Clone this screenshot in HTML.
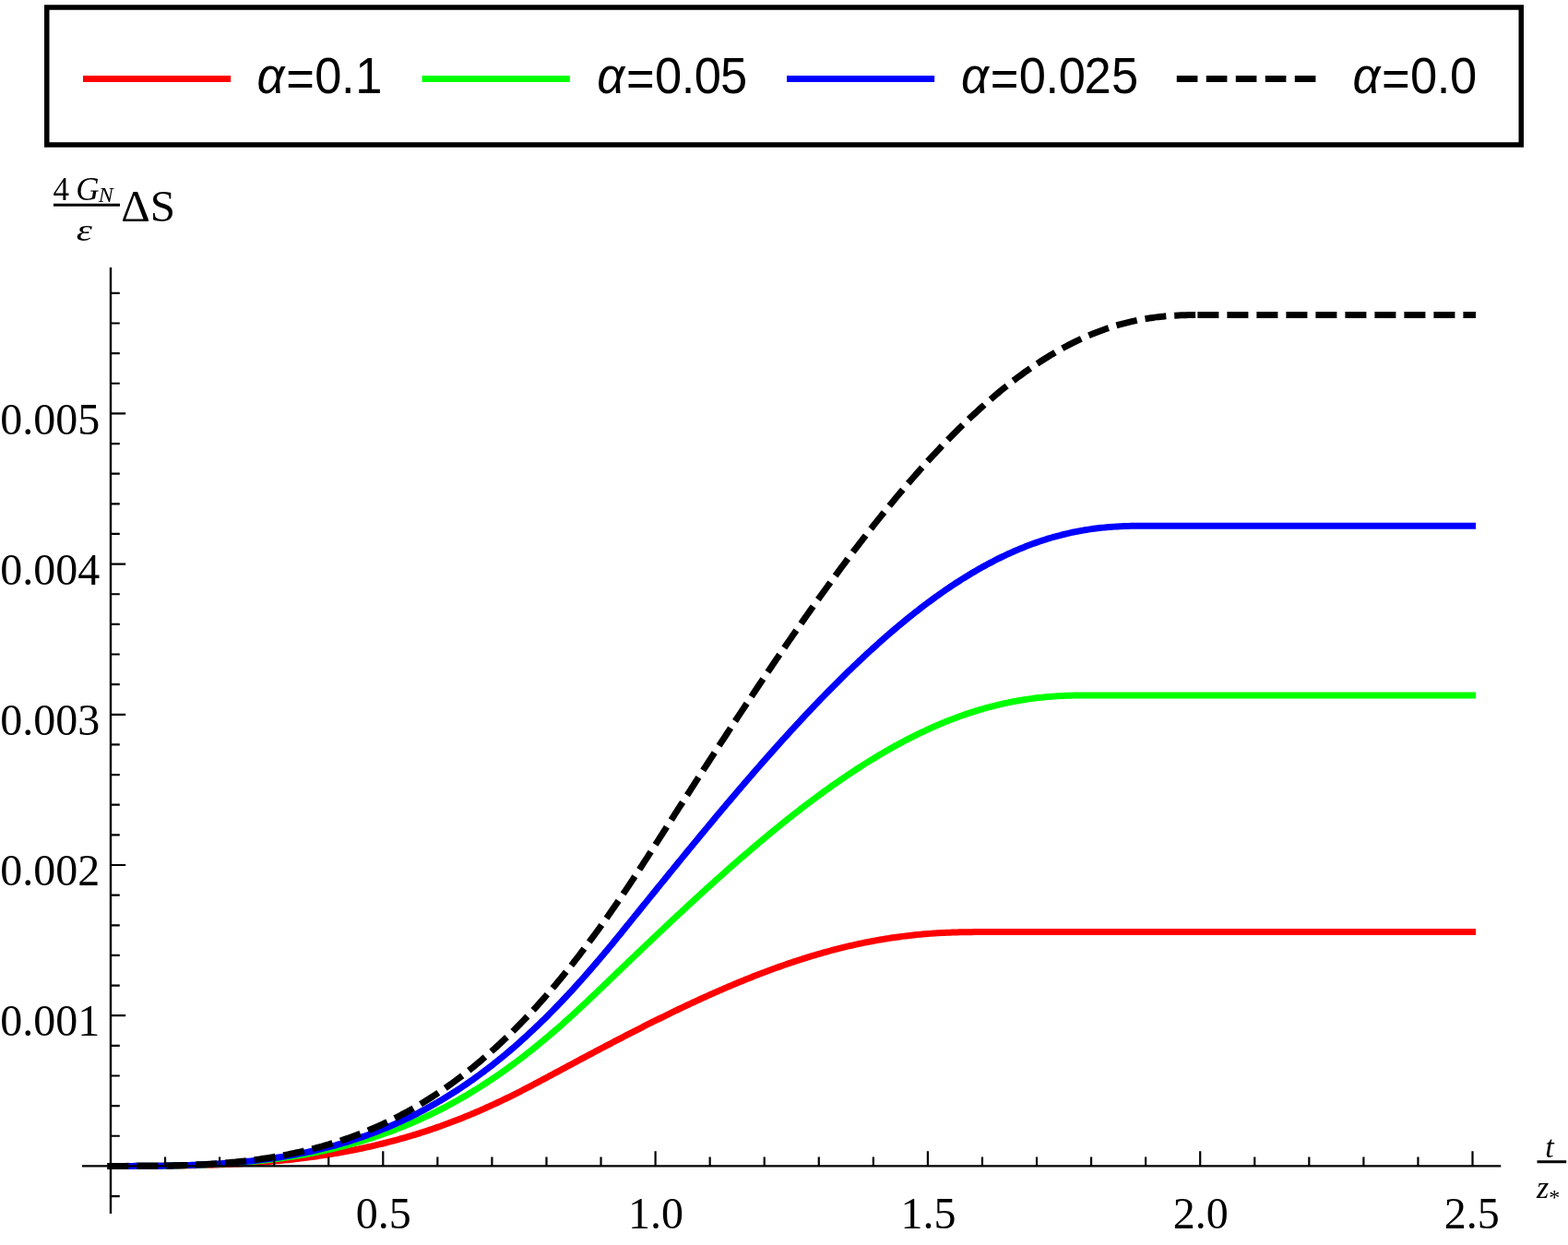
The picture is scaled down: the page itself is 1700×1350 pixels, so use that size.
<!DOCTYPE html>
<html><head><meta charset="utf-8"><title>Plot</title>
<style>
html,body{margin:0;padding:0;background:#fff;}
svg{display:block;}
.tk{font-family:"Liberation Serif","Times New Roman",serif;font-size:48px;fill:#000;}
.lg{font-family:"Liberation Sans",Arial,Helvetica,sans-serif;font-size:52.5px;fill:#000;}
.tm text{font-family:"Liberation Serif","Times New Roman",serif;fill:#000;}
</style></head><body>
<svg width="1700" height="1350" viewBox="0 0 1700 1350">
<rect width="1700" height="1350" fill="#fff"/>
<rect x="50.75" y="8" width="1598.5" height="149" fill="#fff" stroke="#000" stroke-width="5.5"/>
<path d="M90,85.5 h160.2" stroke="#ff0000" stroke-width="7" fill="none"/>
<path d="M457.6,85.5 h160.2" stroke="#00ff00" stroke-width="7" fill="none"/>
<path d="M853,85.5 h160.2" stroke="#0000ff" stroke-width="7" fill="none"/>
<path d="M1275.8,85.5 H1427" stroke="#000" stroke-width="7" stroke-dasharray="22.6 9.4" fill="none"/>
<text transform="translate(278.6,100.7) scale(1,1.06)" class="lg"><tspan font-style="italic">α</tspan><tspan dx="1.7" dy="3.1">=</tspan><tspan dx="0.3" dy="-3.1">0</tspan><tspan dx="-0.4">.</tspan><tspan dx="0.8">1</tspan></text>
<text transform="translate(647.3,100.7) scale(1,1.06)" class="lg"><tspan font-style="italic">α</tspan><tspan dx="1.7" dy="3.1">=</tspan><tspan dx="0.3" dy="-3.1">0</tspan><tspan dx="-0.4">.</tspan><tspan dx="-0.4">0</tspan><tspan dx="-1.0">5</tspan></text>
<text transform="translate(1042.1,100.7) scale(1,1.06)" class="lg"><tspan font-style="italic">α</tspan><tspan dx="1.7" dy="3.1">=</tspan><tspan dx="0.3" dy="-3.1">0</tspan><tspan dx="-0.4">.</tspan><tspan dx="-0.4">0</tspan><tspan dx="-1.4">2</tspan><tspan dx="0.3">5</tspan></text>
<text transform="translate(1466.4,100.7) scale(1,1.06)" class="lg"><tspan font-style="italic">α</tspan><tspan dx="1.7" dy="3.1">=</tspan><tspan dx="0.3" dy="-3.1">0</tspan><tspan dx="-0.4">.</tspan><tspan dx="-0.4">0</tspan></text>
<path d="M120.00,1264.40 L122.00,1264.40 L124.00,1264.40 L126.00,1264.40 L128.00,1264.40 L130.00,1264.40 L132.00,1264.40 L134.00,1264.40 L136.00,1264.40 L138.00,1264.39 L140.00,1264.39 L142.00,1264.39 L144.00,1264.39 L146.00,1264.38 L148.00,1264.38 L150.00,1264.37 L152.00,1264.37 L154.00,1264.36 L156.00,1264.36 L158.00,1264.35 L160.00,1264.34 L162.00,1264.33 L164.00,1264.32 L166.00,1264.31 L168.00,1264.29 L170.00,1264.28 L172.00,1264.27 L174.00,1264.25 L176.00,1264.23 L178.00,1264.21 L180.00,1264.19 L182.00,1264.17 L184.00,1264.15 L186.00,1264.13 L188.00,1264.10 L190.00,1264.07 L192.00,1264.04 L194.00,1264.01 L196.00,1263.98 L198.00,1263.95 L200.00,1263.91 L202.00,1263.87 L204.00,1263.83 L206.00,1263.79 L208.00,1263.75 L210.00,1263.70 L212.00,1263.66 L214.00,1263.61 L216.00,1263.56 L218.00,1263.50 L220.00,1263.45 L222.00,1263.39 L224.00,1263.33 L226.00,1263.26 L228.00,1263.20 L230.00,1263.13 L232.00,1263.06 L234.00,1262.99 L236.00,1262.91 L238.00,1262.83 L240.00,1262.75 L242.00,1262.67 L244.00,1262.58 L246.00,1262.49 L248.00,1262.40 L250.00,1262.31 L252.00,1262.21 L254.00,1262.11 L256.00,1262.00 L258.00,1261.89 L260.00,1261.78 L262.00,1261.67 L264.00,1261.55 L266.00,1261.43 L268.00,1261.31 L270.00,1261.18 L272.00,1261.05 L274.00,1260.92 L276.00,1260.78 L278.00,1260.64 L280.00,1260.50 L282.00,1260.35 L284.00,1260.19 L286.00,1260.04 L288.00,1259.88 L290.00,1259.72 L292.00,1259.55 L294.00,1259.38 L296.00,1259.20 L298.00,1259.02 L300.00,1258.84 L302.00,1258.65 L304.00,1258.46 L306.00,1258.27 L308.00,1258.07 L310.00,1257.86 L312.00,1257.65 L314.00,1257.44 L316.00,1257.22 L318.00,1257.00 L320.00,1256.77 L322.00,1256.54 L324.00,1256.31 L326.00,1256.07 L328.00,1255.82 L330.00,1255.57 L332.00,1255.32 L334.00,1255.06 L336.00,1254.80 L338.00,1254.53 L340.00,1254.25 L342.00,1253.97 L344.00,1253.69 L346.00,1253.40 L348.00,1253.11 L350.00,1252.81 L352.00,1252.50 L354.00,1252.19 L356.00,1251.88 L358.00,1251.56 L360.00,1251.23 L362.00,1250.90 L364.00,1250.56 L366.00,1250.22 L368.00,1249.87 L370.00,1249.52 L372.00,1249.16 L374.00,1248.79 L376.00,1248.42 L378.00,1248.05 L380.00,1247.66 L382.00,1247.27 L384.00,1246.88 L386.00,1246.48 L388.00,1246.07 L390.00,1245.66 L392.00,1245.24 L394.00,1244.82 L396.00,1244.39 L398.00,1243.95 L400.00,1243.51 L402.00,1243.06 L404.00,1242.60 L406.00,1242.14 L408.00,1241.67 L410.00,1241.20 L412.00,1240.72 L414.00,1240.23 L416.00,1239.74 L418.00,1239.24 L420.00,1238.73 L422.00,1238.22 L424.00,1237.69 L426.00,1237.17 L428.00,1236.63 L430.00,1236.09 L432.00,1235.55 L434.00,1234.99 L436.00,1234.43 L438.00,1233.86 L440.00,1233.29 L442.00,1232.70 L444.00,1232.12 L446.00,1231.52 L448.00,1230.92 L450.00,1230.31 L452.00,1229.69 L454.00,1229.06 L456.00,1228.43 L458.00,1227.79 L460.00,1227.15 L462.00,1226.49 L464.00,1225.83 L466.00,1225.17 L468.00,1224.49 L470.00,1223.81 L472.00,1223.12 L474.00,1222.42 L476.00,1221.72 L478.00,1221.01 L480.00,1220.29 L482.00,1219.56 L484.00,1218.83 L486.00,1218.09 L488.00,1217.34 L490.00,1216.58 L492.00,1215.82 L494.00,1215.05 L496.00,1214.27 L498.00,1213.48 L500.00,1212.69 L502.00,1211.89 L504.00,1211.08 L506.00,1210.27 L508.00,1209.44 L510.00,1208.61 L512.00,1207.78 L514.00,1206.93 L516.00,1206.08 L518.00,1205.22 L520.00,1204.35 L522.00,1203.48 L524.00,1202.60 L526.00,1201.71 L528.00,1200.81 L530.00,1199.91 L532.00,1199.00 L534.00,1198.08 L536.00,1197.16 L538.00,1196.23 L540.00,1195.29 L542.00,1194.34 L544.00,1193.39 L546.00,1192.43 L548.00,1191.47 L550.00,1190.50 L552.00,1189.52 L554.00,1188.54 L556.00,1187.54 L558.00,1186.55 L560.00,1185.55 L562.00,1184.54 L564.00,1183.52 L566.00,1182.50 L568.00,1181.48 L570.00,1180.44 L572.00,1179.41 L574.00,1178.37 L576.00,1177.32 L578.00,1176.27 L580.00,1175.22 L582.00,1174.16 L584.00,1173.09 L586.00,1172.03 L588.00,1170.96 L590.00,1169.89 L592.00,1168.81 L594.00,1167.74 L596.00,1166.66 L598.00,1165.59 L600.00,1164.52 L602.00,1163.44 L604.00,1162.37 L606.00,1161.30 L608.00,1160.22 L610.00,1159.15 L612.00,1158.08 L614.00,1157.01 L616.00,1155.93 L618.00,1154.86 L620.00,1153.79 L622.00,1152.72 L624.00,1151.65 L626.00,1150.59 L628.00,1149.52 L630.00,1148.45 L632.00,1147.39 L634.00,1146.32 L636.00,1145.26 L638.00,1144.19 L640.00,1143.13 L642.00,1142.07 L644.00,1141.01 L646.00,1139.95 L648.00,1138.90 L650.00,1137.84 L652.00,1136.78 L654.00,1135.73 L656.00,1134.68 L658.00,1133.63 L660.00,1132.58 L662.00,1131.53 L664.00,1130.49 L666.00,1129.44 L668.00,1128.40 L670.00,1127.36 L672.00,1126.32 L674.00,1125.28 L676.00,1124.25 L678.00,1123.21 L680.00,1122.18 L682.00,1121.15 L684.00,1120.12 L686.00,1119.10 L688.00,1118.08 L690.00,1117.06 L692.00,1116.04 L694.00,1115.02 L696.00,1114.01 L698.00,1112.99 L700.00,1111.98 L702.00,1110.98 L704.00,1109.97 L706.00,1108.97 L708.00,1107.97 L710.00,1106.98 L712.00,1105.98 L714.00,1104.99 L716.00,1104.00 L718.00,1103.02 L720.00,1102.03 L722.00,1101.05 L724.00,1100.08 L726.00,1099.10 L728.00,1098.13 L730.00,1097.16 L732.00,1096.20 L734.00,1095.24 L736.00,1094.28 L738.00,1093.32 L740.00,1092.37 L742.00,1091.43 L744.00,1090.48 L746.00,1089.54 L748.00,1088.60 L750.00,1087.67 L752.00,1086.74 L754.00,1085.81 L756.00,1084.89 L758.00,1083.97 L760.00,1083.05 L762.00,1082.14 L764.00,1081.23 L766.00,1080.33 L768.00,1079.43 L770.00,1078.53 L772.00,1077.64 L774.00,1076.75 L776.00,1075.87 L778.00,1074.99 L780.00,1074.11 L782.00,1073.24 L784.00,1072.37 L786.00,1071.51 L788.00,1070.65 L790.00,1069.80 L792.00,1068.95 L794.00,1068.11 L796.00,1067.27 L798.00,1066.43 L800.00,1065.60 L802.00,1064.77 L804.00,1063.95 L806.00,1063.14 L808.00,1062.33 L810.00,1061.52 L812.00,1060.72 L814.00,1059.92 L816.00,1059.13 L818.00,1058.34 L820.00,1057.56 L822.00,1056.79 L824.00,1056.02 L826.00,1055.25 L828.00,1054.49 L830.00,1053.73 L832.00,1052.98 L834.00,1052.24 L836.00,1051.50 L838.00,1050.77 L840.00,1050.04 L842.00,1049.32 L844.00,1048.60 L846.00,1047.89 L848.00,1047.19 L850.00,1046.49 L852.00,1045.80 L854.00,1045.11 L856.00,1044.43 L858.00,1043.75 L860.00,1043.08 L862.00,1042.42 L864.00,1041.76 L866.00,1041.11 L868.00,1040.46 L870.00,1039.82 L872.00,1039.19 L874.00,1038.56 L876.00,1037.94 L878.00,1037.33 L880.00,1036.72 L882.00,1036.12 L884.00,1035.53 L886.00,1034.94 L888.00,1034.36 L890.00,1033.78 L892.00,1033.21 L894.00,1032.65 L896.00,1032.09 L898.00,1031.55 L900.00,1031.00 L902.00,1030.47 L904.00,1029.94 L906.00,1029.42 L908.00,1028.90 L910.00,1028.40 L912.00,1027.90 L914.00,1027.40 L916.00,1026.91 L918.00,1026.43 L920.00,1025.96 L922.00,1025.50 L924.00,1025.04 L926.00,1024.59 L928.00,1024.14 L930.00,1023.70 L932.00,1023.27 L934.00,1022.85 L936.00,1022.43 L938.00,1022.03 L940.00,1021.63 L942.00,1021.23 L944.00,1020.85 L946.00,1020.47 L948.00,1020.09 L950.00,1019.73 L952.00,1019.37 L954.00,1019.02 L956.00,1018.68 L958.00,1018.35 L960.00,1018.02 L962.00,1017.70 L964.00,1017.39 L966.00,1017.08 L968.00,1016.78 L970.00,1016.49 L972.00,1016.21 L974.00,1015.93 L976.00,1015.66 L978.00,1015.40 L980.00,1015.15 L982.00,1014.91 L984.00,1014.67 L986.00,1014.44 L988.00,1014.21 L990.00,1014.00 L992.00,1013.79 L994.00,1013.58 L996.00,1013.39 L998.00,1013.20 L1000.00,1013.02 L1002.00,1012.85 L1004.00,1012.68 L1006.00,1012.52 L1008.00,1012.37 L1010.00,1012.23 L1012.00,1012.09 L1014.00,1011.96 L1016.00,1011.83 L1018.00,1011.72 L1020.00,1011.60 L1022.00,1011.50 L1024.00,1011.40 L1026.00,1011.31 L1028.00,1011.23 L1030.00,1011.15 L1032.00,1011.07 L1034.00,1011.01 L1036.00,1010.95 L1038.00,1010.89 L1040.00,1010.84 L1042.00,1010.80 L1044.00,1010.76 L1046.00,1010.72 L1048.00,1010.69 L1050.00,1010.67 L1052.00,1010.65 L1054.00,1010.63 L1056.00,1010.62 L1058.00,1010.61 L1060.00,1010.60 L1062.00,1010.60 L1064.00,1010.60 L1064.96,1010.60 L1596.50,1010.60" fill="none" stroke="#ff0000" stroke-width="7" stroke-linejoin="round" stroke-linecap="square"/>
<path d="M120.00,1264.40 L122.00,1264.40 L124.00,1264.40 L126.00,1264.40 L128.00,1264.40 L130.00,1264.40 L132.00,1264.40 L134.00,1264.40 L136.00,1264.39 L138.00,1264.39 L140.00,1264.39 L142.00,1264.39 L144.00,1264.38 L146.00,1264.38 L148.00,1264.37 L150.00,1264.36 L152.00,1264.36 L154.00,1264.35 L156.00,1264.34 L158.00,1264.33 L160.00,1264.31 L162.00,1264.30 L164.00,1264.29 L166.00,1264.27 L168.00,1264.25 L170.00,1264.23 L172.00,1264.21 L174.00,1264.19 L176.00,1264.16 L178.00,1264.14 L180.00,1264.11 L182.00,1264.08 L184.00,1264.05 L186.00,1264.01 L188.00,1263.98 L190.00,1263.94 L192.00,1263.90 L194.00,1263.85 L196.00,1263.81 L198.00,1263.76 L200.00,1263.71 L202.00,1263.66 L204.00,1263.60 L206.00,1263.54 L208.00,1263.48 L210.00,1263.42 L212.00,1263.35 L214.00,1263.28 L216.00,1263.21 L218.00,1263.13 L220.00,1263.05 L222.00,1262.97 L224.00,1262.88 L226.00,1262.80 L228.00,1262.70 L230.00,1262.61 L232.00,1262.51 L234.00,1262.40 L236.00,1262.30 L238.00,1262.19 L240.00,1262.07 L242.00,1261.95 L244.00,1261.83 L246.00,1261.71 L248.00,1261.58 L250.00,1261.44 L252.00,1261.30 L254.00,1261.16 L256.00,1261.01 L258.00,1260.86 L260.00,1260.70 L262.00,1260.54 L264.00,1260.38 L266.00,1260.21 L268.00,1260.03 L270.00,1259.85 L272.00,1259.67 L274.00,1259.48 L276.00,1259.29 L278.00,1259.09 L280.00,1258.88 L282.00,1258.67 L284.00,1258.46 L286.00,1258.24 L288.00,1258.01 L290.00,1257.78 L292.00,1257.55 L294.00,1257.31 L296.00,1257.06 L298.00,1256.80 L300.00,1256.55 L302.00,1256.28 L304.00,1256.01 L306.00,1255.73 L308.00,1255.45 L310.00,1255.16 L312.00,1254.87 L314.00,1254.57 L316.00,1254.26 L318.00,1253.95 L320.00,1253.63 L322.00,1253.30 L324.00,1252.97 L326.00,1252.63 L328.00,1252.28 L330.00,1251.93 L332.00,1251.57 L334.00,1251.20 L336.00,1250.83 L338.00,1250.45 L340.00,1250.06 L342.00,1249.67 L344.00,1249.27 L346.00,1248.86 L348.00,1248.44 L350.00,1248.02 L352.00,1247.59 L354.00,1247.15 L356.00,1246.70 L358.00,1246.25 L360.00,1245.79 L362.00,1245.32 L364.00,1244.84 L366.00,1244.36 L368.00,1243.87 L370.00,1243.37 L372.00,1242.86 L374.00,1242.34 L376.00,1241.82 L378.00,1241.28 L380.00,1240.74 L382.00,1240.19 L384.00,1239.63 L386.00,1239.07 L388.00,1238.49 L390.00,1237.91 L392.00,1237.32 L394.00,1236.72 L396.00,1236.11 L398.00,1235.49 L400.00,1234.86 L402.00,1234.22 L404.00,1233.58 L406.00,1232.92 L408.00,1232.26 L410.00,1231.59 L412.00,1230.91 L414.00,1230.21 L416.00,1229.51 L418.00,1228.80 L420.00,1228.08 L422.00,1227.36 L424.00,1226.62 L426.00,1225.87 L428.00,1225.11 L430.00,1224.34 L432.00,1223.56 L434.00,1222.78 L436.00,1221.98 L438.00,1221.17 L440.00,1220.35 L442.00,1219.53 L444.00,1218.69 L446.00,1217.84 L448.00,1216.98 L450.00,1216.11 L452.00,1215.24 L454.00,1214.35 L456.00,1213.45 L458.00,1212.54 L460.00,1211.62 L462.00,1210.68 L464.00,1209.74 L466.00,1208.79 L468.00,1207.83 L470.00,1206.85 L472.00,1205.87 L474.00,1204.87 L476.00,1203.86 L478.00,1202.85 L480.00,1201.82 L482.00,1200.78 L484.00,1199.73 L486.00,1198.66 L488.00,1197.59 L490.00,1196.51 L492.00,1195.41 L494.00,1194.30 L496.00,1193.18 L498.00,1192.05 L500.00,1190.91 L502.00,1189.76 L504.00,1188.60 L506.00,1187.42 L508.00,1186.23 L510.00,1185.03 L512.00,1183.82 L514.00,1182.60 L516.00,1181.37 L518.00,1180.12 L520.00,1178.87 L522.00,1177.60 L524.00,1176.32 L526.00,1175.02 L528.00,1173.72 L530.00,1172.41 L532.00,1171.08 L534.00,1169.74 L536.00,1168.39 L538.00,1167.02 L540.00,1165.65 L542.00,1164.26 L544.00,1162.87 L546.00,1161.46 L548.00,1160.03 L550.00,1158.60 L552.00,1157.16 L554.00,1155.70 L556.00,1154.23 L558.00,1152.75 L560.00,1151.26 L562.00,1149.75 L564.00,1148.24 L566.00,1146.71 L568.00,1145.17 L570.00,1143.62 L572.00,1142.06 L574.00,1140.48 L576.00,1138.90 L578.00,1137.30 L580.00,1135.69 L582.00,1134.07 L584.00,1132.44 L586.00,1130.80 L588.00,1129.15 L590.00,1127.48 L592.00,1125.81 L594.00,1124.12 L596.00,1122.43 L598.00,1120.72 L600.00,1119.00 L602.00,1117.27 L604.00,1115.53 L606.00,1113.78 L608.00,1112.02 L610.00,1110.26 L612.00,1108.48 L614.00,1106.69 L616.00,1104.89 L618.00,1103.08 L620.00,1101.26 L622.00,1099.44 L624.00,1097.60 L626.00,1095.76 L628.00,1093.91 L630.00,1092.05 L632.00,1090.18 L634.00,1088.31 L636.00,1086.43 L638.00,1084.54 L640.00,1082.64 L642.00,1080.74 L644.00,1078.84 L646.00,1076.93 L648.00,1075.01 L650.00,1073.09 L652.00,1071.17 L654.00,1069.25 L656.00,1067.33 L658.00,1065.41 L660.00,1063.49 L662.00,1061.57 L664.00,1059.65 L666.00,1057.73 L668.00,1055.81 L670.00,1053.89 L672.00,1051.98 L674.00,1050.06 L676.00,1048.14 L678.00,1046.23 L680.00,1044.31 L682.00,1042.40 L684.00,1040.49 L686.00,1038.57 L688.00,1036.66 L690.00,1034.75 L692.00,1032.85 L694.00,1030.94 L696.00,1029.03 L698.00,1027.13 L700.00,1025.23 L702.00,1023.33 L704.00,1021.43 L706.00,1019.53 L708.00,1017.63 L710.00,1015.74 L712.00,1013.85 L714.00,1011.96 L716.00,1010.07 L718.00,1008.18 L720.00,1006.30 L722.00,1004.42 L724.00,1002.54 L726.00,1000.66 L728.00,998.78 L730.00,996.91 L732.00,995.04 L734.00,993.17 L736.00,991.31 L738.00,989.45 L740.00,987.59 L742.00,985.73 L744.00,983.88 L746.00,982.03 L748.00,980.18 L750.00,978.34 L752.00,976.50 L754.00,974.66 L756.00,972.83 L758.00,970.99 L760.00,969.17 L762.00,967.34 L764.00,965.52 L766.00,963.71 L768.00,961.89 L770.00,960.08 L772.00,958.28 L774.00,956.48 L776.00,954.68 L778.00,952.89 L780.00,951.10 L782.00,949.31 L784.00,947.53 L786.00,945.75 L788.00,943.98 L790.00,942.21 L792.00,940.45 L794.00,938.69 L796.00,936.93 L798.00,935.18 L800.00,933.44 L802.00,931.70 L804.00,929.96 L806.00,928.23 L808.00,926.51 L810.00,924.79 L812.00,923.07 L814.00,921.36 L816.00,919.66 L818.00,917.96 L820.00,916.26 L822.00,914.57 L824.00,912.89 L826.00,911.21 L828.00,909.54 L830.00,907.87 L832.00,906.21 L834.00,904.56 L836.00,902.91 L838.00,901.27 L840.00,899.63 L842.00,898.00 L844.00,896.37 L846.00,894.76 L848.00,893.14 L850.00,891.54 L852.00,889.94 L854.00,888.35 L856.00,886.76 L858.00,885.18 L860.00,883.61 L862.00,882.04 L864.00,880.48 L866.00,878.93 L868.00,877.38 L870.00,875.84 L872.00,874.31 L874.00,872.79 L876.00,871.27 L878.00,869.76 L880.00,868.25 L882.00,866.76 L884.00,865.27 L886.00,863.79 L888.00,862.32 L890.00,860.85 L892.00,859.39 L894.00,857.94 L896.00,856.50 L898.00,855.07 L900.00,853.64 L902.00,852.22 L904.00,850.81 L906.00,849.41 L908.00,848.01 L910.00,846.63 L912.00,845.25 L914.00,843.88 L916.00,842.52 L918.00,841.17 L920.00,839.82 L922.00,838.49 L924.00,837.16 L926.00,835.84 L928.00,834.53 L930.00,833.23 L932.00,831.94 L934.00,830.66 L936.00,829.39 L938.00,828.12 L940.00,826.87 L942.00,825.62 L944.00,824.38 L946.00,823.16 L948.00,821.94 L950.00,820.73 L952.00,819.53 L954.00,818.34 L956.00,817.16 L958.00,815.99 L960.00,814.83 L962.00,813.68 L964.00,812.54 L966.00,811.41 L968.00,810.29 L970.00,809.18 L972.00,808.08 L974.00,806.98 L976.00,805.90 L978.00,804.83 L980.00,803.77 L982.00,802.72 L984.00,801.68 L986.00,800.65 L988.00,799.64 L990.00,798.63 L992.00,797.63 L994.00,796.64 L996.00,795.67 L998.00,794.70 L1000.00,793.75 L1002.00,792.80 L1004.00,791.87 L1006.00,790.95 L1008.00,790.03 L1010.00,789.13 L1012.00,788.25 L1014.00,787.37 L1016.00,786.50 L1018.00,785.64 L1020.00,784.80 L1022.00,783.97 L1024.00,783.14 L1026.00,782.33 L1028.00,781.53 L1030.00,780.74 L1032.00,779.97 L1034.00,779.20 L1036.00,778.45 L1038.00,777.71 L1040.00,776.97 L1042.00,776.25 L1044.00,775.55 L1046.00,774.85 L1048.00,774.17 L1050.00,773.49 L1052.00,772.83 L1054.00,772.18 L1056.00,771.55 L1058.00,770.92 L1060.00,770.30 L1062.00,769.70 L1064.00,769.11 L1066.00,768.53 L1068.00,767.97 L1070.00,767.41 L1072.00,766.87 L1074.00,766.33 L1076.00,765.81 L1078.00,765.31 L1080.00,764.81 L1082.00,764.33 L1084.00,763.85 L1086.00,763.39 L1088.00,762.94 L1090.00,762.50 L1092.00,762.08 L1094.00,761.67 L1096.00,761.26 L1098.00,760.87 L1100.00,760.49 L1102.00,760.13 L1104.00,759.77 L1106.00,759.43 L1108.00,759.09 L1110.00,758.77 L1112.00,758.46 L1114.00,758.16 L1116.00,757.87 L1118.00,757.60 L1120.00,757.33 L1122.00,757.08 L1124.00,756.84 L1126.00,756.60 L1128.00,756.38 L1130.00,756.17 L1132.00,755.97 L1134.00,755.78 L1136.00,755.60 L1138.00,755.43 L1140.00,755.27 L1142.00,755.12 L1144.00,754.98 L1146.00,754.85 L1148.00,754.73 L1150.00,754.62 L1152.00,754.52 L1154.00,754.43 L1156.00,754.34 L1158.00,754.27 L1160.00,754.20 L1162.00,754.14 L1164.00,754.09 L1166.00,754.04 L1168.00,754.00 L1170.00,753.97 L1172.00,753.95 L1174.00,753.93 L1176.00,753.92 L1178.00,753.91 L1180.00,753.90 L1182.00,753.90 L1183.08,753.90 L1596.50,753.90" fill="none" stroke="#00ff00" stroke-width="7" stroke-linejoin="round" stroke-linecap="square"/>
<path d="M120.00,1264.40 L122.00,1264.40 L124.00,1264.40 L126.00,1264.40 L128.00,1264.40 L130.00,1264.40 L132.00,1264.40 L134.00,1264.40 L136.00,1264.39 L138.00,1264.39 L140.00,1264.39 L142.00,1264.38 L144.00,1264.38 L146.00,1264.37 L148.00,1264.37 L150.00,1264.36 L152.00,1264.35 L154.00,1264.34 L156.00,1264.33 L158.00,1264.31 L160.00,1264.30 L162.00,1264.28 L164.00,1264.27 L166.00,1264.25 L168.00,1264.23 L170.00,1264.21 L172.00,1264.18 L174.00,1264.15 L176.00,1264.13 L178.00,1264.10 L180.00,1264.06 L182.00,1264.03 L184.00,1263.99 L186.00,1263.95 L188.00,1263.91 L190.00,1263.87 L192.00,1263.82 L194.00,1263.77 L196.00,1263.72 L198.00,1263.66 L200.00,1263.60 L202.00,1263.54 L204.00,1263.48 L206.00,1263.41 L208.00,1263.34 L210.00,1263.26 L212.00,1263.19 L214.00,1263.11 L216.00,1263.02 L218.00,1262.93 L220.00,1262.84 L222.00,1262.75 L224.00,1262.65 L226.00,1262.55 L228.00,1262.44 L230.00,1262.33 L232.00,1262.21 L234.00,1262.09 L236.00,1261.97 L238.00,1261.84 L240.00,1261.71 L242.00,1261.57 L244.00,1261.43 L246.00,1261.28 L248.00,1261.13 L250.00,1260.98 L252.00,1260.82 L254.00,1260.65 L256.00,1260.48 L258.00,1260.31 L260.00,1260.13 L262.00,1259.94 L264.00,1259.75 L266.00,1259.55 L268.00,1259.35 L270.00,1259.14 L272.00,1258.93 L274.00,1258.71 L276.00,1258.49 L278.00,1258.26 L280.00,1258.02 L282.00,1257.78 L284.00,1257.53 L286.00,1257.28 L288.00,1257.02 L290.00,1256.75 L292.00,1256.48 L294.00,1256.20 L296.00,1255.91 L298.00,1255.62 L300.00,1255.32 L302.00,1255.01 L304.00,1254.70 L306.00,1254.38 L308.00,1254.05 L310.00,1253.72 L312.00,1253.38 L314.00,1253.03 L316.00,1252.68 L318.00,1252.31 L320.00,1251.94 L322.00,1251.57 L324.00,1251.18 L326.00,1250.79 L328.00,1250.39 L330.00,1249.98 L332.00,1249.56 L334.00,1249.14 L336.00,1248.71 L338.00,1248.27 L340.00,1247.82 L342.00,1247.36 L344.00,1246.90 L346.00,1246.43 L348.00,1245.95 L350.00,1245.46 L352.00,1244.96 L354.00,1244.45 L356.00,1243.94 L358.00,1243.41 L360.00,1242.88 L362.00,1242.34 L364.00,1241.78 L366.00,1241.22 L368.00,1240.65 L370.00,1240.08 L372.00,1239.49 L374.00,1238.89 L376.00,1238.28 L378.00,1237.67 L380.00,1237.04 L382.00,1236.41 L384.00,1235.76 L386.00,1235.10 L388.00,1234.44 L390.00,1233.76 L392.00,1233.08 L394.00,1232.38 L396.00,1231.68 L398.00,1230.96 L400.00,1230.24 L402.00,1229.50 L404.00,1228.75 L406.00,1228.00 L408.00,1227.23 L410.00,1226.45 L412.00,1225.66 L414.00,1224.86 L416.00,1224.05 L418.00,1223.23 L420.00,1222.40 L422.00,1221.55 L424.00,1220.70 L426.00,1219.83 L428.00,1218.95 L430.00,1218.06 L432.00,1217.16 L434.00,1216.25 L436.00,1215.33 L438.00,1214.39 L440.00,1213.45 L442.00,1212.49 L444.00,1211.52 L446.00,1210.53 L448.00,1209.54 L450.00,1208.53 L452.00,1207.52 L454.00,1206.49 L456.00,1205.44 L458.00,1204.39 L460.00,1203.32 L462.00,1202.24 L464.00,1201.15 L466.00,1200.04 L468.00,1198.93 L470.00,1197.80 L472.00,1196.66 L474.00,1195.50 L476.00,1194.33 L478.00,1193.15 L480.00,1191.96 L482.00,1190.75 L484.00,1189.53 L486.00,1188.30 L488.00,1187.05 L490.00,1185.79 L492.00,1184.52 L494.00,1183.23 L496.00,1181.94 L498.00,1180.62 L500.00,1179.30 L502.00,1177.96 L504.00,1176.60 L506.00,1175.24 L508.00,1173.86 L510.00,1172.46 L512.00,1171.06 L514.00,1169.63 L516.00,1168.20 L518.00,1166.75 L520.00,1165.29 L522.00,1163.81 L524.00,1162.32 L526.00,1160.81 L528.00,1159.30 L530.00,1157.76 L532.00,1156.22 L534.00,1154.65 L536.00,1153.08 L538.00,1151.49 L540.00,1149.89 L542.00,1148.27 L544.00,1146.63 L546.00,1144.99 L548.00,1143.33 L550.00,1141.65 L552.00,1139.96 L554.00,1138.26 L556.00,1136.54 L558.00,1134.81 L560.00,1133.06 L562.00,1131.30 L564.00,1129.52 L566.00,1127.73 L568.00,1125.93 L570.00,1124.11 L572.00,1122.27 L574.00,1120.43 L576.00,1118.56 L578.00,1116.69 L580.00,1114.80 L582.00,1112.89 L584.00,1110.97 L586.00,1109.04 L588.00,1107.09 L590.00,1105.13 L592.00,1103.15 L594.00,1101.16 L596.00,1099.15 L598.00,1097.13 L600.00,1095.10 L602.00,1093.05 L604.00,1090.99 L606.00,1088.92 L608.00,1086.83 L610.00,1084.72 L612.00,1082.61 L614.00,1080.48 L616.00,1078.33 L618.00,1076.18 L620.00,1074.01 L622.00,1071.82 L624.00,1069.63 L626.00,1067.42 L628.00,1065.20 L630.00,1062.96 L632.00,1060.71 L634.00,1058.45 L636.00,1056.18 L638.00,1053.90 L640.00,1051.60 L642.00,1049.29 L644.00,1046.97 L646.00,1044.64 L648.00,1042.30 L650.00,1039.95 L652.00,1037.58 L654.00,1035.21 L656.00,1032.83 L658.00,1030.43 L660.00,1028.03 L662.00,1025.62 L664.00,1023.19 L666.00,1020.76 L668.00,1018.33 L670.00,1015.88 L672.00,1013.43 L674.00,1010.97 L676.00,1008.51 L678.00,1006.04 L680.00,1003.57 L682.00,1001.09 L684.00,998.62 L686.00,996.14 L688.00,993.67 L690.00,991.20 L692.00,988.72 L694.00,986.25 L696.00,983.78 L698.00,981.30 L700.00,978.83 L702.00,976.36 L704.00,973.89 L706.00,971.42 L708.00,968.95 L710.00,966.49 L712.00,964.02 L714.00,961.56 L716.00,959.09 L718.00,956.63 L720.00,954.17 L722.00,951.71 L724.00,949.25 L726.00,946.79 L728.00,944.34 L730.00,941.89 L732.00,939.43 L734.00,936.99 L736.00,934.54 L738.00,932.09 L740.00,929.65 L742.00,927.21 L744.00,924.77 L746.00,922.33 L748.00,919.90 L750.00,917.47 L752.00,915.04 L754.00,912.61 L756.00,910.19 L758.00,907.77 L760.00,905.35 L762.00,902.94 L764.00,900.52 L766.00,898.12 L768.00,895.71 L770.00,893.31 L772.00,890.91 L774.00,888.51 L776.00,886.12 L778.00,883.73 L780.00,881.35 L782.00,878.97 L784.00,876.59 L786.00,874.22 L788.00,871.85 L790.00,869.48 L792.00,867.12 L794.00,864.76 L796.00,862.41 L798.00,860.06 L800.00,857.71 L802.00,855.37 L804.00,853.04 L806.00,850.71 L808.00,848.38 L810.00,846.06 L812.00,843.74 L814.00,841.43 L816.00,839.12 L818.00,836.82 L820.00,834.52 L822.00,832.23 L824.00,829.95 L826.00,827.67 L828.00,825.39 L830.00,823.12 L832.00,820.86 L834.00,818.60 L836.00,816.34 L838.00,814.10 L840.00,811.85 L842.00,809.62 L844.00,807.39 L846.00,805.17 L848.00,802.95 L850.00,800.74 L852.00,798.53 L854.00,796.33 L856.00,794.14 L858.00,791.96 L860.00,789.78 L862.00,787.61 L864.00,785.44 L866.00,783.28 L868.00,781.13 L870.00,778.99 L872.00,776.85 L874.00,774.72 L876.00,772.59 L878.00,770.48 L880.00,768.37 L882.00,766.27 L884.00,764.18 L886.00,762.09 L888.00,760.01 L890.00,757.94 L892.00,755.88 L894.00,753.82 L896.00,751.77 L898.00,749.74 L900.00,747.70 L902.00,745.68 L904.00,743.67 L906.00,741.66 L908.00,739.66 L910.00,737.67 L912.00,735.69 L914.00,733.72 L916.00,731.76 L918.00,729.80 L920.00,727.86 L922.00,725.92 L924.00,723.99 L926.00,722.07 L928.00,720.16 L930.00,718.26 L932.00,716.37 L934.00,714.49 L936.00,712.62 L938.00,710.75 L940.00,708.90 L942.00,707.05 L944.00,705.22 L946.00,703.39 L948.00,701.58 L950.00,699.78 L952.00,697.98 L954.00,696.20 L956.00,694.42 L958.00,692.66 L960.00,690.90 L962.00,689.16 L964.00,687.43 L966.00,685.70 L968.00,683.99 L970.00,682.29 L972.00,680.60 L974.00,678.92 L976.00,677.25 L978.00,675.59 L980.00,673.94 L982.00,672.31 L984.00,670.68 L986.00,669.07 L988.00,667.46 L990.00,665.87 L992.00,664.29 L994.00,662.72 L996.00,661.17 L998.00,659.62 L1000.00,658.09 L1002.00,656.56 L1004.00,655.05 L1006.00,653.55 L1008.00,652.07 L1010.00,650.59 L1012.00,649.13 L1014.00,647.68 L1016.00,646.24 L1018.00,644.81 L1020.00,643.40 L1022.00,642.00 L1024.00,640.61 L1026.00,639.23 L1028.00,637.87 L1030.00,636.52 L1032.00,635.18 L1034.00,633.85 L1036.00,632.54 L1038.00,631.24 L1040.00,629.95 L1042.00,628.67 L1044.00,627.41 L1046.00,626.16 L1048.00,624.93 L1050.00,623.71 L1052.00,622.50 L1054.00,621.30 L1056.00,620.12 L1058.00,618.95 L1060.00,617.79 L1062.00,616.65 L1064.00,615.52 L1066.00,614.41 L1068.00,613.31 L1070.00,612.22 L1072.00,611.14 L1074.00,610.08 L1076.00,609.04 L1078.00,608.00 L1080.00,606.98 L1082.00,605.98 L1084.00,604.99 L1086.00,604.01 L1088.00,603.05 L1090.00,602.10 L1092.00,601.16 L1094.00,600.24 L1096.00,599.34 L1098.00,598.44 L1100.00,597.57 L1102.00,596.70 L1104.00,595.85 L1106.00,595.02 L1108.00,594.19 L1110.00,593.39 L1112.00,592.59 L1114.00,591.82 L1116.00,591.05 L1118.00,590.30 L1120.00,589.57 L1122.00,588.85 L1124.00,588.14 L1126.00,587.45 L1128.00,586.77 L1130.00,586.11 L1132.00,585.46 L1134.00,584.83 L1136.00,584.21 L1138.00,583.60 L1140.00,583.01 L1142.00,582.43 L1144.00,581.87 L1146.00,581.32 L1148.00,580.79 L1150.00,580.27 L1152.00,579.76 L1154.00,579.27 L1156.00,578.80 L1158.00,578.33 L1160.00,577.88 L1162.00,577.45 L1164.00,577.03 L1166.00,576.62 L1168.00,576.23 L1170.00,575.85 L1172.00,575.48 L1174.00,575.13 L1176.00,574.79 L1178.00,574.47 L1180.00,574.16 L1182.00,573.86 L1184.00,573.57 L1186.00,573.30 L1188.00,573.04 L1190.00,572.80 L1192.00,572.56 L1194.00,572.34 L1196.00,572.13 L1198.00,571.94 L1200.00,571.75 L1202.00,571.58 L1204.00,571.42 L1206.00,571.27 L1208.00,571.13 L1210.00,571.00 L1212.00,570.89 L1214.00,570.78 L1216.00,570.68 L1218.00,570.60 L1220.00,570.52 L1222.00,570.45 L1224.00,570.40 L1226.00,570.35 L1228.00,570.31 L1230.00,570.27 L1232.00,570.25 L1234.00,570.23 L1236.00,570.21 L1238.00,570.21 L1240.00,570.20 L1242.00,570.20 L1242.14,570.20 L1596.50,570.20" fill="none" stroke="#0000ff" stroke-width="7" stroke-linejoin="round" stroke-linecap="square"/>
<path d="M120.00,1264.40 L122.00,1264.40 L124.00,1264.40 L126.00,1264.40 L128.00,1264.40 L130.00,1264.40 L132.00,1264.40 L134.00,1264.40 L136.00,1264.39 L138.00,1264.39 L140.00,1264.39 L142.00,1264.38 L144.00,1264.38 L146.00,1264.37 L148.00,1264.36 L150.00,1264.35 L152.00,1264.34 L154.00,1264.33 L156.00,1264.32 L158.00,1264.30 L160.00,1264.29 L162.00,1264.27 L164.00,1264.25 L166.00,1264.23 L168.00,1264.20 L170.00,1264.18 L172.00,1264.15 L174.00,1264.12 L176.00,1264.09 L178.00,1264.05 L180.00,1264.02 L182.00,1263.98 L184.00,1263.93 L186.00,1263.89 L188.00,1263.84 L190.00,1263.79 L192.00,1263.74 L194.00,1263.68 L196.00,1263.62 L198.00,1263.56 L200.00,1263.49 L202.00,1263.42 L204.00,1263.35 L206.00,1263.27 L208.00,1263.19 L210.00,1263.11 L212.00,1263.02 L214.00,1262.93 L216.00,1262.83 L218.00,1262.73 L220.00,1262.62 L222.00,1262.52 L224.00,1262.40 L226.00,1262.29 L228.00,1262.16 L230.00,1262.04 L232.00,1261.91 L234.00,1261.77 L236.00,1261.63 L238.00,1261.48 L240.00,1261.33 L242.00,1261.18 L244.00,1261.02 L246.00,1260.85 L248.00,1260.68 L250.00,1260.50 L252.00,1260.32 L254.00,1260.13 L256.00,1259.93 L258.00,1259.73 L260.00,1259.53 L262.00,1259.32 L264.00,1259.10 L266.00,1258.88 L268.00,1258.65 L270.00,1258.41 L272.00,1258.17 L274.00,1257.92 L276.00,1257.66 L278.00,1257.40 L280.00,1257.13 L282.00,1256.85 L284.00,1256.57 L286.00,1256.28 L288.00,1255.98 L290.00,1255.68 L292.00,1255.37 L294.00,1255.05 L296.00,1254.72 L298.00,1254.39 L300.00,1254.05 L302.00,1253.70 L304.00,1253.34 L306.00,1252.98 L308.00,1252.61 L310.00,1252.23 L312.00,1251.84 L314.00,1251.44 L316.00,1251.04 L318.00,1250.62 L320.00,1250.20 L322.00,1249.77 L324.00,1249.33 L326.00,1248.88 L328.00,1248.43 L330.00,1247.96 L332.00,1247.49 L334.00,1247.01 L336.00,1246.51 L338.00,1246.01 L340.00,1245.50 L342.00,1244.98 L344.00,1244.45 L346.00,1243.91 L348.00,1243.36 L350.00,1242.81 L352.00,1242.24 L354.00,1241.66 L356.00,1241.07 L358.00,1240.47 L360.00,1239.87 L362.00,1239.25 L364.00,1238.62 L366.00,1237.98 L368.00,1237.33 L370.00,1236.67 L372.00,1236.00 L374.00,1235.32 L376.00,1234.63 L378.00,1233.93 L380.00,1233.21 L382.00,1232.49 L384.00,1231.75 L386.00,1231.00 L388.00,1230.25 L390.00,1229.48 L392.00,1228.69 L394.00,1227.90 L396.00,1227.10 L398.00,1226.28 L400.00,1225.45 L402.00,1224.61 L404.00,1223.76 L406.00,1222.90 L408.00,1222.02 L410.00,1221.13 L412.00,1220.23 L414.00,1219.32 L416.00,1218.40 L418.00,1217.46 L420.00,1216.51 L422.00,1215.55 L424.00,1214.57 L426.00,1213.58 L428.00,1212.58 L430.00,1211.57 L432.00,1210.54 L434.00,1209.50 L436.00,1208.45 L438.00,1207.38 L440.00,1206.30 L442.00,1205.20 L444.00,1204.10 L446.00,1202.98 L448.00,1201.84 L450.00,1200.69 L452.00,1199.53 L454.00,1198.35 L456.00,1197.16 L458.00,1195.96 L460.00,1194.74 L462.00,1193.51 L464.00,1192.26 L466.00,1191.00 L468.00,1189.72 L470.00,1188.43 L472.00,1187.13 L474.00,1185.81 L476.00,1184.48 L478.00,1183.13 L480.00,1181.76 L482.00,1180.38 L484.00,1178.99 L486.00,1177.58 L488.00,1176.16 L490.00,1174.72 L492.00,1173.26 L494.00,1171.79 L496.00,1170.31 L498.00,1168.81 L500.00,1167.29 L502.00,1165.76 L504.00,1164.21 L506.00,1162.65 L508.00,1161.07 L510.00,1159.47 L512.00,1157.86 L514.00,1156.24 L516.00,1154.59 L518.00,1152.93 L520.00,1151.26 L522.00,1149.57 L524.00,1147.86 L526.00,1146.14 L528.00,1144.40 L530.00,1142.64 L532.00,1140.87 L534.00,1139.08 L536.00,1137.27 L538.00,1135.45 L540.00,1133.61 L542.00,1131.75 L544.00,1129.88 L546.00,1127.99 L548.00,1126.09 L550.00,1124.16 L552.00,1122.22 L554.00,1120.27 L556.00,1118.29 L558.00,1116.30 L560.00,1114.29 L562.00,1112.27 L564.00,1110.22 L566.00,1108.17 L568.00,1106.09 L570.00,1103.99 L572.00,1101.88 L574.00,1099.76 L576.00,1097.61 L578.00,1095.45 L580.00,1093.27 L582.00,1091.07 L584.00,1088.86 L586.00,1086.62 L588.00,1084.38 L590.00,1082.11 L592.00,1079.83 L594.00,1077.53 L596.00,1075.21 L598.00,1072.87 L600.00,1070.52 L602.00,1068.15 L604.00,1065.76 L606.00,1063.36 L608.00,1060.94 L610.00,1058.50 L612.00,1056.04 L614.00,1053.57 L616.00,1051.08 L618.00,1048.57 L620.00,1046.05 L622.00,1043.51 L624.00,1040.95 L626.00,1038.37 L628.00,1035.78 L630.00,1033.17 L632.00,1030.55 L634.00,1027.91 L636.00,1025.25 L638.00,1022.58 L640.00,1019.89 L642.00,1017.18 L644.00,1014.46 L646.00,1011.72 L648.00,1008.96 L650.00,1006.19 L652.00,1003.41 L654.00,1000.61 L656.00,997.79 L658.00,994.96 L660.00,992.11 L662.00,989.25 L664.00,986.37 L666.00,983.48 L668.00,980.58 L670.00,977.66 L672.00,974.73 L674.00,971.78 L676.00,968.82 L678.00,965.85 L680.00,962.86 L682.00,959.86 L684.00,956.85 L686.00,953.83 L688.00,950.80 L690.00,947.75 L692.00,944.70 L694.00,941.63 L696.00,938.56 L698.00,935.47 L700.00,932.38 L702.00,929.28 L704.00,926.17 L706.00,923.06 L708.00,919.94 L710.00,916.82 L712.00,913.69 L714.00,910.56 L716.00,907.44 L718.00,904.31 L720.00,901.19 L722.00,898.07 L724.00,894.94 L726.00,891.82 L728.00,888.70 L730.00,885.58 L732.00,882.45 L734.00,879.33 L736.00,876.22 L738.00,873.10 L740.00,869.98 L742.00,866.87 L744.00,863.75 L746.00,860.64 L748.00,857.53 L750.00,854.42 L752.00,851.31 L754.00,848.20 L756.00,845.10 L758.00,842.00 L760.00,838.90 L762.00,835.80 L764.00,832.70 L766.00,829.61 L768.00,826.52 L770.00,823.43 L772.00,820.34 L774.00,817.26 L776.00,814.18 L778.00,811.10 L780.00,808.02 L782.00,804.95 L784.00,801.88 L786.00,798.81 L788.00,795.75 L790.00,792.69 L792.00,789.64 L794.00,786.58 L796.00,783.53 L798.00,780.49 L800.00,777.45 L802.00,774.41 L804.00,771.37 L806.00,768.34 L808.00,765.32 L810.00,762.29 L812.00,759.28 L814.00,756.26 L816.00,753.25 L818.00,750.25 L820.00,747.25 L822.00,744.25 L824.00,741.26 L826.00,738.28 L828.00,735.30 L830.00,732.32 L832.00,729.35 L834.00,726.38 L836.00,723.42 L838.00,720.47 L840.00,717.52 L842.00,714.57 L844.00,711.63 L846.00,708.70 L848.00,705.77 L850.00,702.85 L852.00,699.94 L854.00,697.03 L856.00,694.13 L858.00,691.23 L860.00,688.34 L862.00,685.45 L864.00,682.57 L866.00,679.70 L868.00,676.84 L870.00,673.98 L872.00,671.13 L874.00,668.29 L876.00,665.45 L878.00,662.62 L880.00,659.79 L882.00,656.98 L884.00,654.17 L886.00,651.37 L888.00,648.57 L890.00,645.79 L892.00,643.01 L894.00,640.24 L896.00,637.47 L898.00,634.72 L900.00,631.97 L902.00,629.23 L904.00,626.50 L906.00,623.78 L908.00,621.06 L910.00,618.36 L912.00,615.66 L914.00,612.97 L916.00,610.29 L918.00,607.62 L920.00,604.96 L922.00,602.30 L924.00,599.66 L926.00,597.02 L928.00,594.39 L930.00,591.78 L932.00,589.17 L934.00,586.57 L936.00,583.98 L938.00,581.40 L940.00,578.83 L942.00,576.27 L944.00,573.72 L946.00,571.18 L948.00,568.65 L950.00,566.13 L952.00,563.62 L954.00,561.12 L956.00,558.63 L958.00,556.15 L960.00,553.68 L962.00,551.22 L964.00,548.78 L966.00,546.34 L968.00,543.91 L970.00,541.50 L972.00,539.10 L974.00,536.70 L976.00,534.32 L978.00,531.95 L980.00,529.59 L982.00,527.25 L984.00,524.91 L986.00,522.59 L988.00,520.27 L990.00,517.97 L992.00,515.68 L994.00,513.40 L996.00,511.14 L998.00,508.89 L1000.00,506.64 L1002.00,504.42 L1004.00,502.20 L1006.00,500.00 L1008.00,497.80 L1010.00,495.63 L1012.00,493.46 L1014.00,491.31 L1016.00,489.16 L1018.00,487.04 L1020.00,484.92 L1022.00,482.82 L1024.00,480.73 L1026.00,478.66 L1028.00,476.59 L1030.00,474.54 L1032.00,472.51 L1034.00,470.49 L1036.00,468.48 L1038.00,466.48 L1040.00,464.50 L1042.00,462.54 L1044.00,460.58 L1046.00,458.64 L1048.00,456.72 L1050.00,454.81 L1052.00,452.91 L1054.00,451.03 L1056.00,449.16 L1058.00,447.31 L1060.00,445.47 L1062.00,443.64 L1064.00,441.83 L1066.00,440.04 L1068.00,438.25 L1070.00,436.49 L1072.00,434.74 L1074.00,433.00 L1076.00,431.28 L1078.00,429.57 L1080.00,427.88 L1082.00,426.21 L1084.00,424.55 L1086.00,422.90 L1088.00,421.28 L1090.00,419.66 L1092.00,418.06 L1094.00,416.48 L1096.00,414.91 L1098.00,413.36 L1100.00,411.83 L1102.00,410.31 L1104.00,408.81 L1106.00,407.32 L1108.00,405.85 L1110.00,404.39 L1112.00,402.95 L1114.00,401.53 L1116.00,400.12 L1118.00,398.73 L1120.00,397.36 L1122.00,396.00 L1124.00,394.66 L1126.00,393.34 L1128.00,392.03 L1130.00,390.74 L1132.00,389.47 L1134.00,388.21 L1136.00,386.97 L1138.00,385.74 L1140.00,384.54 L1142.00,383.35 L1144.00,382.17 L1146.00,381.02 L1148.00,379.88 L1150.00,378.75 L1152.00,377.65 L1154.00,376.56 L1156.00,375.49 L1158.00,374.44 L1160.00,373.40 L1162.00,372.38 L1164.00,371.38 L1166.00,370.39 L1168.00,369.42 L1170.00,368.47 L1172.00,367.54 L1174.00,366.62 L1176.00,365.73 L1178.00,364.84 L1180.00,363.98 L1182.00,363.13 L1184.00,362.30 L1186.00,361.49 L1188.00,360.70 L1190.00,359.92 L1192.00,359.16 L1194.00,358.41 L1196.00,357.69 L1198.00,356.98 L1200.00,356.29 L1202.00,355.61 L1204.00,354.95 L1206.00,354.31 L1208.00,353.69 L1210.00,353.08 L1212.00,352.50 L1214.00,351.92 L1216.00,351.37 L1218.00,350.83 L1220.00,350.31 L1222.00,349.80 L1224.00,349.31 L1226.00,348.84 L1228.00,348.38 L1230.00,347.94 L1232.00,347.52 L1234.00,347.11 L1236.00,346.72 L1238.00,346.35 L1240.00,345.99 L1242.00,345.64 L1244.00,345.31 L1246.00,345.00 L1248.00,344.70 L1250.00,344.42 L1252.00,344.15 L1254.00,343.90 L1256.00,343.66 L1258.00,343.43 L1260.00,343.22 L1262.00,343.03 L1264.00,342.84 L1266.00,342.67 L1268.00,342.52 L1270.00,342.37 L1272.00,342.24 L1274.00,342.12 L1276.00,342.02 L1278.00,341.92 L1280.00,341.84 L1282.00,341.76 L1284.00,341.70 L1286.00,341.65 L1288.00,341.60 L1290.00,341.57 L1292.00,341.54 L1294.00,341.52 L1296.00,341.51 L1298.00,341.50 L1300.00,341.50 L1301.20,341.50" fill="none" stroke="#000" stroke-width="7" stroke-dasharray="15.953 15.953" stroke-linejoin="round" stroke-linecap="square"/>
<path d="M1301.90,341.50 L1596.5,341.50" fill="none" stroke="#000" stroke-width="7" stroke-dasharray="16 16" stroke-linecap="square"/>
<path d="M89,1264.4 H1627.3" stroke="#000" stroke-width="2.4" fill="none"/>
<path d="M120.0,290 V1316" stroke="#000" stroke-width="2.4" fill="none"/>
<path d="M179.06,1264.4 v-9.8 M238.12,1264.4 v-9.8 M297.18,1264.4 v-9.8 M356.24,1264.4 v-9.8 M415.30,1264.4 v-16.2 M474.36,1264.4 v-9.8 M533.42,1264.4 v-9.8 M592.48,1264.4 v-9.8 M651.54,1264.4 v-9.8 M710.60,1264.4 v-16.2 M769.66,1264.4 v-9.8 M828.72,1264.4 v-9.8 M887.78,1264.4 v-9.8 M946.84,1264.4 v-9.8 M1005.90,1264.4 v-16.2 M1064.96,1264.4 v-9.8 M1124.02,1264.4 v-9.8 M1183.08,1264.4 v-9.8 M1242.14,1264.4 v-9.8 M1301.20,1264.4 v-16.2 M1360.26,1264.4 v-9.8 M1419.32,1264.4 v-9.8 M1478.38,1264.4 v-9.8 M1537.44,1264.4 v-9.8 M1596.50,1264.4 v-16.2 M120.0,1297.04 h9.8 M120.0,1231.76 h9.8 M120.0,1199.12 h9.8 M120.0,1166.48 h9.8 M120.0,1133.84 h9.8 M120.0,1101.20 h16.2 M120.0,1068.56 h9.8 M120.0,1035.92 h9.8 M120.0,1003.28 h9.8 M120.0,970.64 h9.8 M120.0,938.00 h16.2 M120.0,905.36 h9.8 M120.0,872.72 h9.8 M120.0,840.08 h9.8 M120.0,807.44 h9.8 M120.0,774.80 h16.2 M120.0,742.16 h9.8 M120.0,709.52 h9.8 M120.0,676.88 h9.8 M120.0,644.24 h9.8 M120.0,611.60 h16.2 M120.0,578.96 h9.8 M120.0,546.32 h9.8 M120.0,513.68 h9.8 M120.0,481.04 h9.8 M120.0,448.40 h16.2 M120.0,415.76 h9.8 M120.0,383.12 h9.8 M120.0,350.48 h9.8 M120.0,317.84 h9.8" stroke="#000" stroke-width="2.2" fill="none"/>
<text x="415.8" y="1332" text-anchor="middle" class="tk">0.5</text>
<text x="711.1" y="1332" text-anchor="middle" class="tk">1.0</text>
<text x="1006.4" y="1332" text-anchor="middle" class="tk">1.5</text>
<text x="1301.7" y="1332" text-anchor="middle" class="tk">2.0</text>
<text x="1595.8" y="1332" text-anchor="middle" class="tk">2.5</text>
<text x="108.3" y="1123.3" text-anchor="end" class="tk">0.001</text>
<text x="108.3" y="960.1" text-anchor="end" class="tk">0.002</text>
<text x="108.3" y="796.9" text-anchor="end" class="tk">0.003</text>
<text x="108.3" y="633.7" text-anchor="end" class="tk">0.004</text>
<text x="108.3" y="470.5" text-anchor="end" class="tk">0.005</text>
<g class="tm">
<text x="57.6" y="216.5" font-size="35"><tspan>4</tspan><tspan dx="7.2" font-style="italic">G</tspan><tspan font-style="italic" font-size="24" dy="2.6" dx="-0.9">N</tspan></text>
<path d="M58,222.2 H130" stroke="#000" stroke-width="3"/>
<text transform="translate(91.3,261) scale(1.28,0.98)" font-size="34" font-style="italic" text-anchor="middle">ε</text>
<text x="131.2" y="240" font-size="49">ΔS</text>
</g>
<g class="tm">
<text x="1680" y="1254.6" font-size="34" font-style="italic" text-anchor="middle">t</text>
<path d="M1666.5,1259.7 H1698.2" stroke="#000" stroke-width="3"/>
<text x="1666" y="1298.6" font-size="34" font-style="italic">z<tspan font-size="24" dy="7" font-style="normal">*</tspan></text>
</g>
</svg>
</body></html>
